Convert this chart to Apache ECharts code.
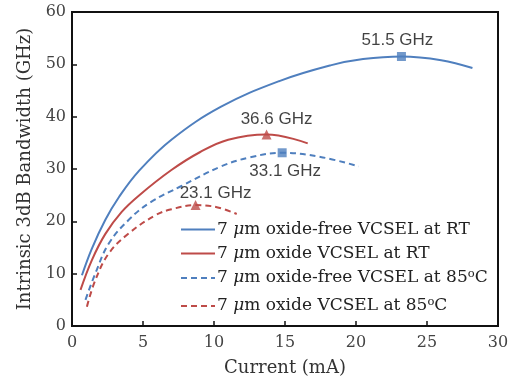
<!DOCTYPE html>
<html><head><meta charset="utf-8">
<script src="https://cdn.jsdelivr.net/npm/echarts@6/dist/echarts.min.js"></script>
<style>html,body{margin:0;padding:0;background:#fff}#c{width:516px;height:384px}</style>
</head><body><div id="c"></div>
<script>
// Current (mA), Bandwidth (GHz)
const freeRT = [[0.7,9.7],[1.4,14.8],[2.35,20.3],[3.3,24.6],[4.7,29.6],[7.0,35.6],[10.5,41.9],[14.6,46.8],[18.2,49.8],[20.5,51.0],[23.2,51.5],[26.0,50.8],[28.2,49.3]];
const oxideRT = [[0.6,6.9],[1.4,12.6],[2.35,17.6],[3.5,21.8],[4.7,24.9],[7.0,29.8],[9.0,33.2],[11.0,35.6],[13.7,36.6],[16.6,34.9]];
const free85 = [[0.95,5.0],[1.65,10.1],[2.6,15.8],[4.0,20.3],[5.5,23.6],[7.75,26.8],[10.5,30.5],[12.5,32.2],[14.8,33.1],[17.5,32.3],[20.2,30.5]];
const oxide85 = [[1.05,3.7],[1.65,8.8],[2.6,13.9],[4.0,17.7],[5.9,21.2],[7.0,22.3],[8.7,23.1],[10.2,22.7],[11.6,21.4]];
const peaksFree = [[23.2,51.5],[14.8,33.1]];
const peaksOxide = [[13.7,36.6],[8.7,23.1]];
const peakLabels = ['51.5 GHz','33.1 GHz','36.6 GHz','23.1 GHz'];
const seriesNames = ['free RT','oxide RT','free 85','oxide 85'];
const xTicks = [0,5,10,15,20,25,30];
const yTicks = [0,10,20,30,40,50,60];

const BLUE = '#4F7FBE', RED = '#BE4B48';
const serif = 'DejaVu Serif';
const FS = 17;
const rich = {
  a:{fontFamily:serif,fontSize:FS,color:'#222',lineHeight:20},
  i:{fontFamily:serif,fontSize:FS,fontStyle:'italic',color:'#222',lineHeight:20},
  s:{fontFamily:serif,fontSize:11.5,color:'#222',lineHeight:20,verticalAlign:'top'}
};
const legendText = {
  'free RT':'{a|7 }{i|μ}{a|m oxide-free VCSEL at RT}',
  'oxide RT':'{a|7 }{i|μ}{a|m oxide VCSEL at RT}',
  'free 85':'{a|7 }{i|μ}{a|m oxide-free VCSEL at 85}{s|o}{a|C}',
  'oxide 85':'{a|7 }{i|μ}{a|m oxide VCSEL at 85}{s|o}{a|C}'
};
const legendTop = [221, 245, 268, 296];
const legends = seriesNames.map((n,k)=>({
  data:[n], left:180, top:legendTop[k], orient:'vertical',
  itemWidth:34, itemHeight:14, itemGap:0, padding:0,
  itemStyle:{opacity:0},
  formatter: nm => legendText[nm],
  textStyle:{rich:rich, padding:[0,0,0,-3]}
}));

const lineSeries = (name,data,color,dashed)=>({
  name, type:'line', data, smooth:0.4, showSymbol:false, symbol:'none',
  lineStyle:{color, width:2, type: dashed?[6,4]:'solid'},
  itemStyle:{color}, z:2
});
const lblStyle = {show:true,fontFamily:'Liberation Sans',fontSize:17,color:'#111'};

const chart = echarts.init(document.getElementById('c'));
chart.setOption({
  animation:false,
  grid:{left:72,top:12,right:18,bottom:58,show:true,borderColor:'#111',borderWidth:2,backgroundColor:'transparent'},
  xAxis:{type:'value',min:0,max:30,interval:5,
    name:'Current (mA)',nameLocation:'middle',nameGap:33,
    nameTextStyle:{fontFamily:serif,fontSize:18,color:'#333'},
    axisLine:{show:true,lineStyle:{color:'#111',width:2}},
    axisTick:{show:true,inside:true,length:5,lineStyle:{color:'#111',width:1.5}},
    axisLabel:{fontFamily:serif,fontSize:16,color:'#444',margin:9,
      formatter:v=>xTicks.includes(v)?String(v):''},
    splitLine:{show:false}},
  yAxis:{type:'value',min:0,max:60,interval:10,
    name:'Intrinsic 3dB Bandwidth (GHz)',nameLocation:'middle',nameGap:38,
    nameTextStyle:{fontFamily:serif,fontSize:18,color:'#333'},
    axisLine:{show:true,lineStyle:{color:'#111',width:2}},
    axisTick:{show:true,inside:true,length:5,lineStyle:{color:'#111',width:1.5}},
    axisLabel:{fontFamily:serif,fontSize:16,color:'#444',margin:6,
      formatter:v=>yTicks.includes(v)?String(v):''},
    splitLine:{show:false}},
  legend:legends,
  series:[
    lineSeries('free RT',freeRT,BLUE,false),
    lineSeries('oxide RT',oxideRT,RED,false),
    lineSeries('free 85',free85,BLUE,true),
    lineSeries('oxide 85',oxide85,RED,true),
    {type:'scatter',symbol:'rect',symbolSize:9,itemStyle:{color:BLUE},z:3,
      label:Object.assign({},lblStyle,{formatter:p=>peakLabels[p.dataIndex]}),
      data:[{value:peaksFree[0],label:{position:'top',distance:3,offset:[-4,0]}},
            {value:peaksFree[1],label:{position:'bottom',distance:6,offset:[3,0]}}]},
    {type:'scatter',symbol:'triangle',symbolSize:10,itemStyle:{color:RED},z:3,
      label:Object.assign({},lblStyle,{formatter:p=>peakLabels[p.dataIndex+2]}),
      data:[{value:peaksOxide[0],label:{position:'top',distance:2,offset:[10,0]}},
            {value:peaksOxide[1],label:{position:'top',distance:0,offset:[20,2]}}]}
  ]
});
</script></body></html>
